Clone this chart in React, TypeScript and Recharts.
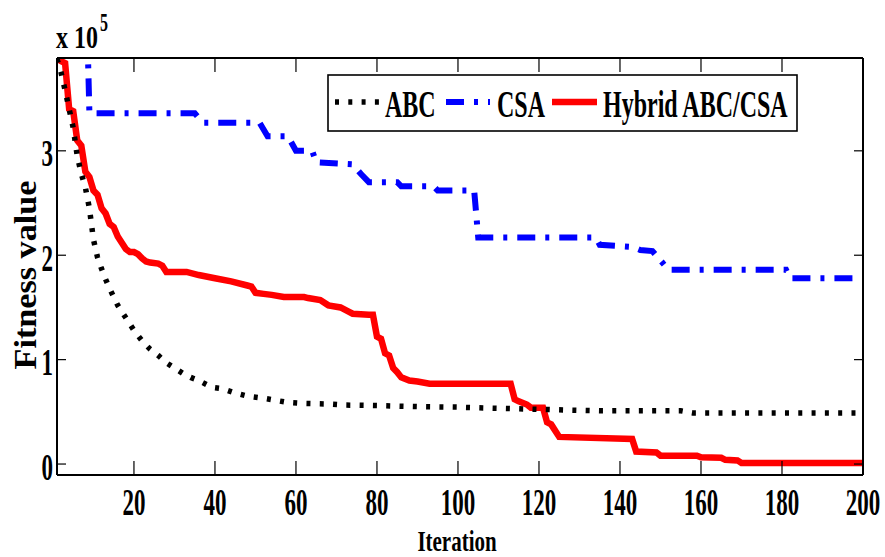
import { LineChart, Line, XAxis, YAxis, Legend } from 'recharts';

// Courbes de convergence : ABC, CSA et hybride ABC/CSA (valeurs brutes, axe en x 10^5)
const ABC_ITER = [1, 2, 3, 4, 5, 6, 7, 8, 9, 10, 11, 12, 13, 14, 15, 16, 18, 20, 22, 24, 26, 28, 30, 32, 34, 36, 38, 40, 42, 45, 48, 52, 55, 58, 62, 68, 72, 80, 90, 100, 104, 114, 124, 135, 155, 158, 200];
const ABC_FIT = [388000, 375000, 358000, 340000, 322000, 295000, 278000, 265000, 245000, 215000, 198000, 187000, 177000, 168000, 160000, 152000, 140000, 128000, 118000, 110000, 104000, 97000, 92000, 87000, 83000, 80000, 76000, 73000, 72000, 68000, 65000, 63000, 61000, 59000, 58000, 57500, 56500, 56000, 55000, 54500, 54000, 53000, 52000, 51000, 51000, 49000, 49000];

const CSA_ITER = [8, 9, 35, 37, 51, 53, 58, 60, 64, 65, 74, 76, 78, 85, 86, 94, 95, 104, 105, 134, 135, 143, 145, 148, 152, 181, 182, 200];
const CSA_FIT = [490000, 336000, 336000, 327000, 327000, 314000, 314000, 300000, 300000, 289000, 287000, 278000, 270000, 270000, 266000, 266000, 262000, 262000, 217000, 217000, 210000, 208000, 205000, 204000, 186000, 186000, 178000, 178000];

const HYB_ITER = [1, 2, 3, 4, 5, 6, 7, 8, 9, 10, 11, 12, 13, 14, 15, 16, 17, 18, 19, 20, 21, 22, 23, 24, 26, 27, 28, 33, 36, 40, 44, 48, 49, 50, 52, 54, 57, 62, 63, 66, 68, 71, 73, 74, 78, 79, 80, 81, 82, 83, 84, 85, 86, 88, 90, 93, 113, 114, 115, 117, 118, 121, 122, 123, 125, 143, 144, 149, 150, 159, 160, 165, 166, 169, 170, 200];
const HYB_FIT = [388000, 386000, 384000, 340000, 338000, 310000, 305000, 280000, 275000, 262000, 258000, 245000, 240000, 230000, 227000, 218000, 212000, 206000, 203000, 203000, 201000, 197000, 194000, 193000, 192000, 190000, 184000, 184000, 181000, 178000, 175000, 171000, 170000, 164000, 163000, 162000, 160000, 160000, 159000, 157000, 152000, 150000, 146000, 144000, 143000, 143000, 122000, 120000, 106000, 104000, 92000, 88000, 83000, 80000, 79000, 77000, 77000, 62000, 60000, 57000, 54000, 54000, 40000, 38000, 26000, 24000, 12000, 11000, 8000, 8000, 6500, 6000, 4000, 3500, 1000, 1000];

const X_TICKS = [20, 40, 60, 80, 100, 120, 140, 160, 180, 200];
const Y_TICKS = [0, 100000, 200000, 300000];

const SERIES = [
  { name: 'ABC', color: '#000000', dash: '4 9.3', width: 5.5 },
  { name: 'CSA', color: '#0000ff', dash: '18 10 4 10', width: 6 },
  { name: 'Hybrid ABC/CSA', color: '#ff0000', dash: undefined, width: 6.5 },
];

const toPoints = (xs: number[], ys: number[]) => xs.map((x, i) => ({ x, y: ys[i] }));
const abcData = toPoints(ABC_ITER, ABC_FIT);
const csaData = toPoints(CSA_ITER, CSA_FIT);
const hybData = toPoints(HYB_ITER, HYB_FIT);

const FONT = '"Times New Roman", "Liberation Serif", serif';

const BottomTick = ({ x, y, payload }: any) => (
  <g>
    <line x1={x} y1={y} x2={x} y2={y - 14} stroke="#000" strokeWidth={1.2} />
    <text transform={`translate(${x},${y + 40}) scale(1,1.65)`} textAnchor="middle"
      fontFamily={FONT} fontWeight="bold" fontSize={23} fill="#000">{payload.value}</text>
  </g>
);

const TopTick = ({ x, y }: any) => (
  <line x1={x} y1={y} x2={x} y2={y + 14} stroke="#000" strokeWidth={1.2} />
);

const LeftTick = ({ x, y, payload }: any) => (
  <g>
    <line x1={x} y1={y} x2={x + 9} y2={y} stroke="#000" strokeWidth={1.2} />
    <text transform={`translate(${x - 4},${y + 15.5}) scale(1,1.65)`} textAnchor="end"
      fontFamily={FONT} fontWeight="bold" fontSize={23} fill="#000">{payload.value / 100000}</text>
  </g>
);

const RightTick = ({ x, y }: any) => (
  <line x1={x} y1={y} x2={x - 9} y2={y} stroke="#000" strokeWidth={1.2} />
);

const renderLegend = () => {
  const samples = [
    { x1: 8, x2: 53, tx: 58 },
    { x1: 119, x2: 163, tx: 170 },
    { x1: 225, x2: 270, tx: 276 },
  ];
  return (
    <svg width={472} height={59} style={{ display: 'block' }}>
      <rect x={1} y={1} width={469} height={56} fill="#fff" stroke="#000" strokeWidth={1.6} />
      {SERIES.map((s, i) => (
        <g key={s.name}>
          <line x1={samples[i].x1} y1={28} x2={samples[i].x2} y2={28} stroke={s.color}
            strokeWidth={s.width} strokeDasharray={s.dash} />
          <text transform={`translate(${samples[i].tx},43) scale(1,1.57)`} fontFamily={FONT}
            fontWeight="bold" fontSize={24} fill="#000">{s.name}</text>
        </g>
      ))}
    </svg>
  );
};

export default function App() {
  return (
    <div style={{ position: 'absolute', left: 0, top: 0, width: 885, height: 557, background: '#fff' }}>
      <LineChart width={885} height={557} margin={{ top: 57, right: 21, bottom: 22, left: 0 }}>
        <XAxis dataKey="x" type="number" domain={[1, 200]} ticks={X_TICKS} allowDataOverflow
          height={60} tickSize={0} tickMargin={0} tickLine={false} tick={<BottomTick />}
          axisLine={{ stroke: '#000', strokeWidth: 2 }} />
        <XAxis xAxisId="top" orientation="top" dataKey="x" type="number" domain={[1, 200]} ticks={X_TICKS}
          allowDataOverflow height={1} tickSize={0} tickMargin={0} tickLine={false} tick={<TopTick />}
          axisLine={{ stroke: '#000', strokeWidth: 2 }} />
        <YAxis type="number" domain={[-10500, 388900]} ticks={Y_TICKS} allowDataOverflow width={57}
          tickSize={0} tickMargin={0} tickLine={false} tick={<LeftTick />}
          axisLine={{ stroke: '#000', strokeWidth: 2 }} />
        <YAxis yAxisId="right" orientation="right" type="number" domain={[-10500, 388900]} ticks={Y_TICKS}
          allowDataOverflow width={1} tickSize={0} tickMargin={0} tickLine={false} tick={<RightTick />}
          axisLine={{ stroke: '#000', strokeWidth: 2 }} />
        <Line data={hybData} dataKey="y" name="Hybrid ABC/CSA" type="linear" stroke="#ff0000"
          strokeWidth={6.5} dot={false} isAnimationActive={false} strokeLinejoin="miter" />
        <Line data={csaData} dataKey="y" name="CSA" type="linear" stroke="#0000ff" strokeWidth={6}
          strokeDasharray="18 10 4 10" dot={false} isAnimationActive={false} />
        <Line data={abcData} dataKey="y" name="ABC" type="linear" stroke="#000000" strokeWidth={5.5}
          strokeDasharray="4 9.3" dot={false} isAnimationActive={false} />
        <Legend content={renderLegend} layout="vertical" align="center" verticalAlign="middle"
          wrapperStyle={{ position: 'absolute', left: 327, top: 74, width: 472, height: 59 }} />
      </LineChart>
      <svg width={885} height={557} style={{ position: 'absolute', left: 0, top: 0, pointerEvents: 'none' }}>
        <text transform="translate(56,48) scale(1,1.3)" fontFamily={FONT} fontWeight="bold" fontSize={24} fill="#000">
          x 10
        </text>
        <text transform="translate(100,31) scale(1,1.6)" fontFamily={FONT} fontWeight="bold" fontSize={16} fill="#000">
          5
        </text>
        <text transform="translate(457,551) scale(1,1.42)" textAnchor="middle" fontFamily={FONT}
          fontWeight="bold" fontSize={21} fill="#000">Iteration</text>
        <text transform="translate(36,275) rotate(-90) scale(1.14,1.05)" textAnchor="middle" fontFamily={FONT}
          fontWeight="bold" fontSize={30} fill="#000">Fitness value</text>
      </svg>
    </div>
  );
}
